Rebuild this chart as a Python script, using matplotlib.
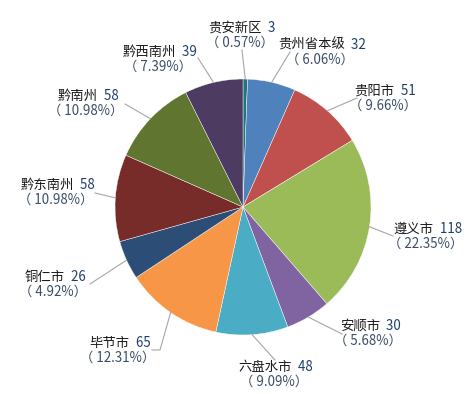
import matplotlib
matplotlib.use('Agg')
import matplotlib.pyplot as plt
import numpy as np

plt.rcParams['font.family'] = ['Noto Sans CJK SC', 'DejaVu Sans']

# data
names = ['贵安新区', '贵州省本级', '贵阳市', '遵义市', '安顺市', '六盘水市',
         '毕节市', '铜仁市', '黔东南州', '黔南州', '黔西南州']
values = [3, 32, 51, 118, 30, 48, 65, 26, 58, 58, 39]
colors = ['#21757F', '#4F81BD', '#C0504D', '#9BBB59', '#8064A2', '#4BACC6',
          '#F79646', '#2C4D75', '#772C2A', '#5F7530', '#4D3B62']

# layout (pixel coords, y down): label block centres and leader ends
label_pos = [(242, 35), (322, 52), (385, 98), (428, 236), (370, 333), (276, 374),
             (120, 350), (55, 284), (58, 192), (88, 103), (160, 59)]
leader_end = [(242, 50), (290, 52), (357, 98), (393, 236), (342, 334), (275, 360),
              (152, 350), (90, 284), (95, 193), (125, 104), (198, 58)]

W, H = 477, 394
cx, cy, R = 243, 207, 128

fig = plt.figure(figsize=(W / 100, H / 100), dpi=100)
ax = fig.add_axes([0, 0, 1, 1])
wedges, _ = ax.pie(values, colors=colors, startangle=90, counterclock=False,
                   center=(cx, H - cy), radius=R,
                   wedgeprops=dict(edgecolor='white', linewidth=0.3))
ax.set_xlim(0, W)
ax.set_ylim(0, H)
ax.set_aspect('equal')
ax.axis('off')

total = sum(values)
renderer = fig.canvas.get_renderer()
fs = 9.6
for i, (w, n, v) in enumerate(zip(wedges, names, values)):
    mid = np.deg2rad((w.theta1 + w.theta2) / 2)
    x0 = cx + R * np.cos(mid)
    y0 = (H - cy) + R * np.sin(mid)
    ex, ey = leader_end[i]
    if n == '毕节市':
        ax.plot([x0, 160, ex], [y0, H - ey, H - ey], color='#A6A6A6', lw=0.8)
    else:
        ax.plot([x0, ex], [y0, H - ey], color='#A6A6A6', lw=0.8)

    lx, ly = label_pos[i]
    # first line: name in black, value in navy
    t1 = ax.text(0, 0, n, fontsize=fs, color='#1a1a1a', va='center', ha='left')
    t2 = ax.text(0, 0, '  ' + str(v), fontsize=fs, color='#1F3F6A', va='center', ha='left')
    w1 = t1.get_window_extent(renderer).width
    w2 = t2.get_window_extent(renderer).width
    start = lx - (w1 + w2) / 2
    t1.set_position((start, H - (ly - 7)))
    t2.set_position((start + w1, H - (ly - 7)))
    pct = v / total * 100
    ax.text(lx - 2, H - (ly + 8), '（ %.2f%%）' % pct, fontsize=fs, color='#3B4E66',
            va='center', ha='center')

fig.savefig('out.png', dpi=100)
